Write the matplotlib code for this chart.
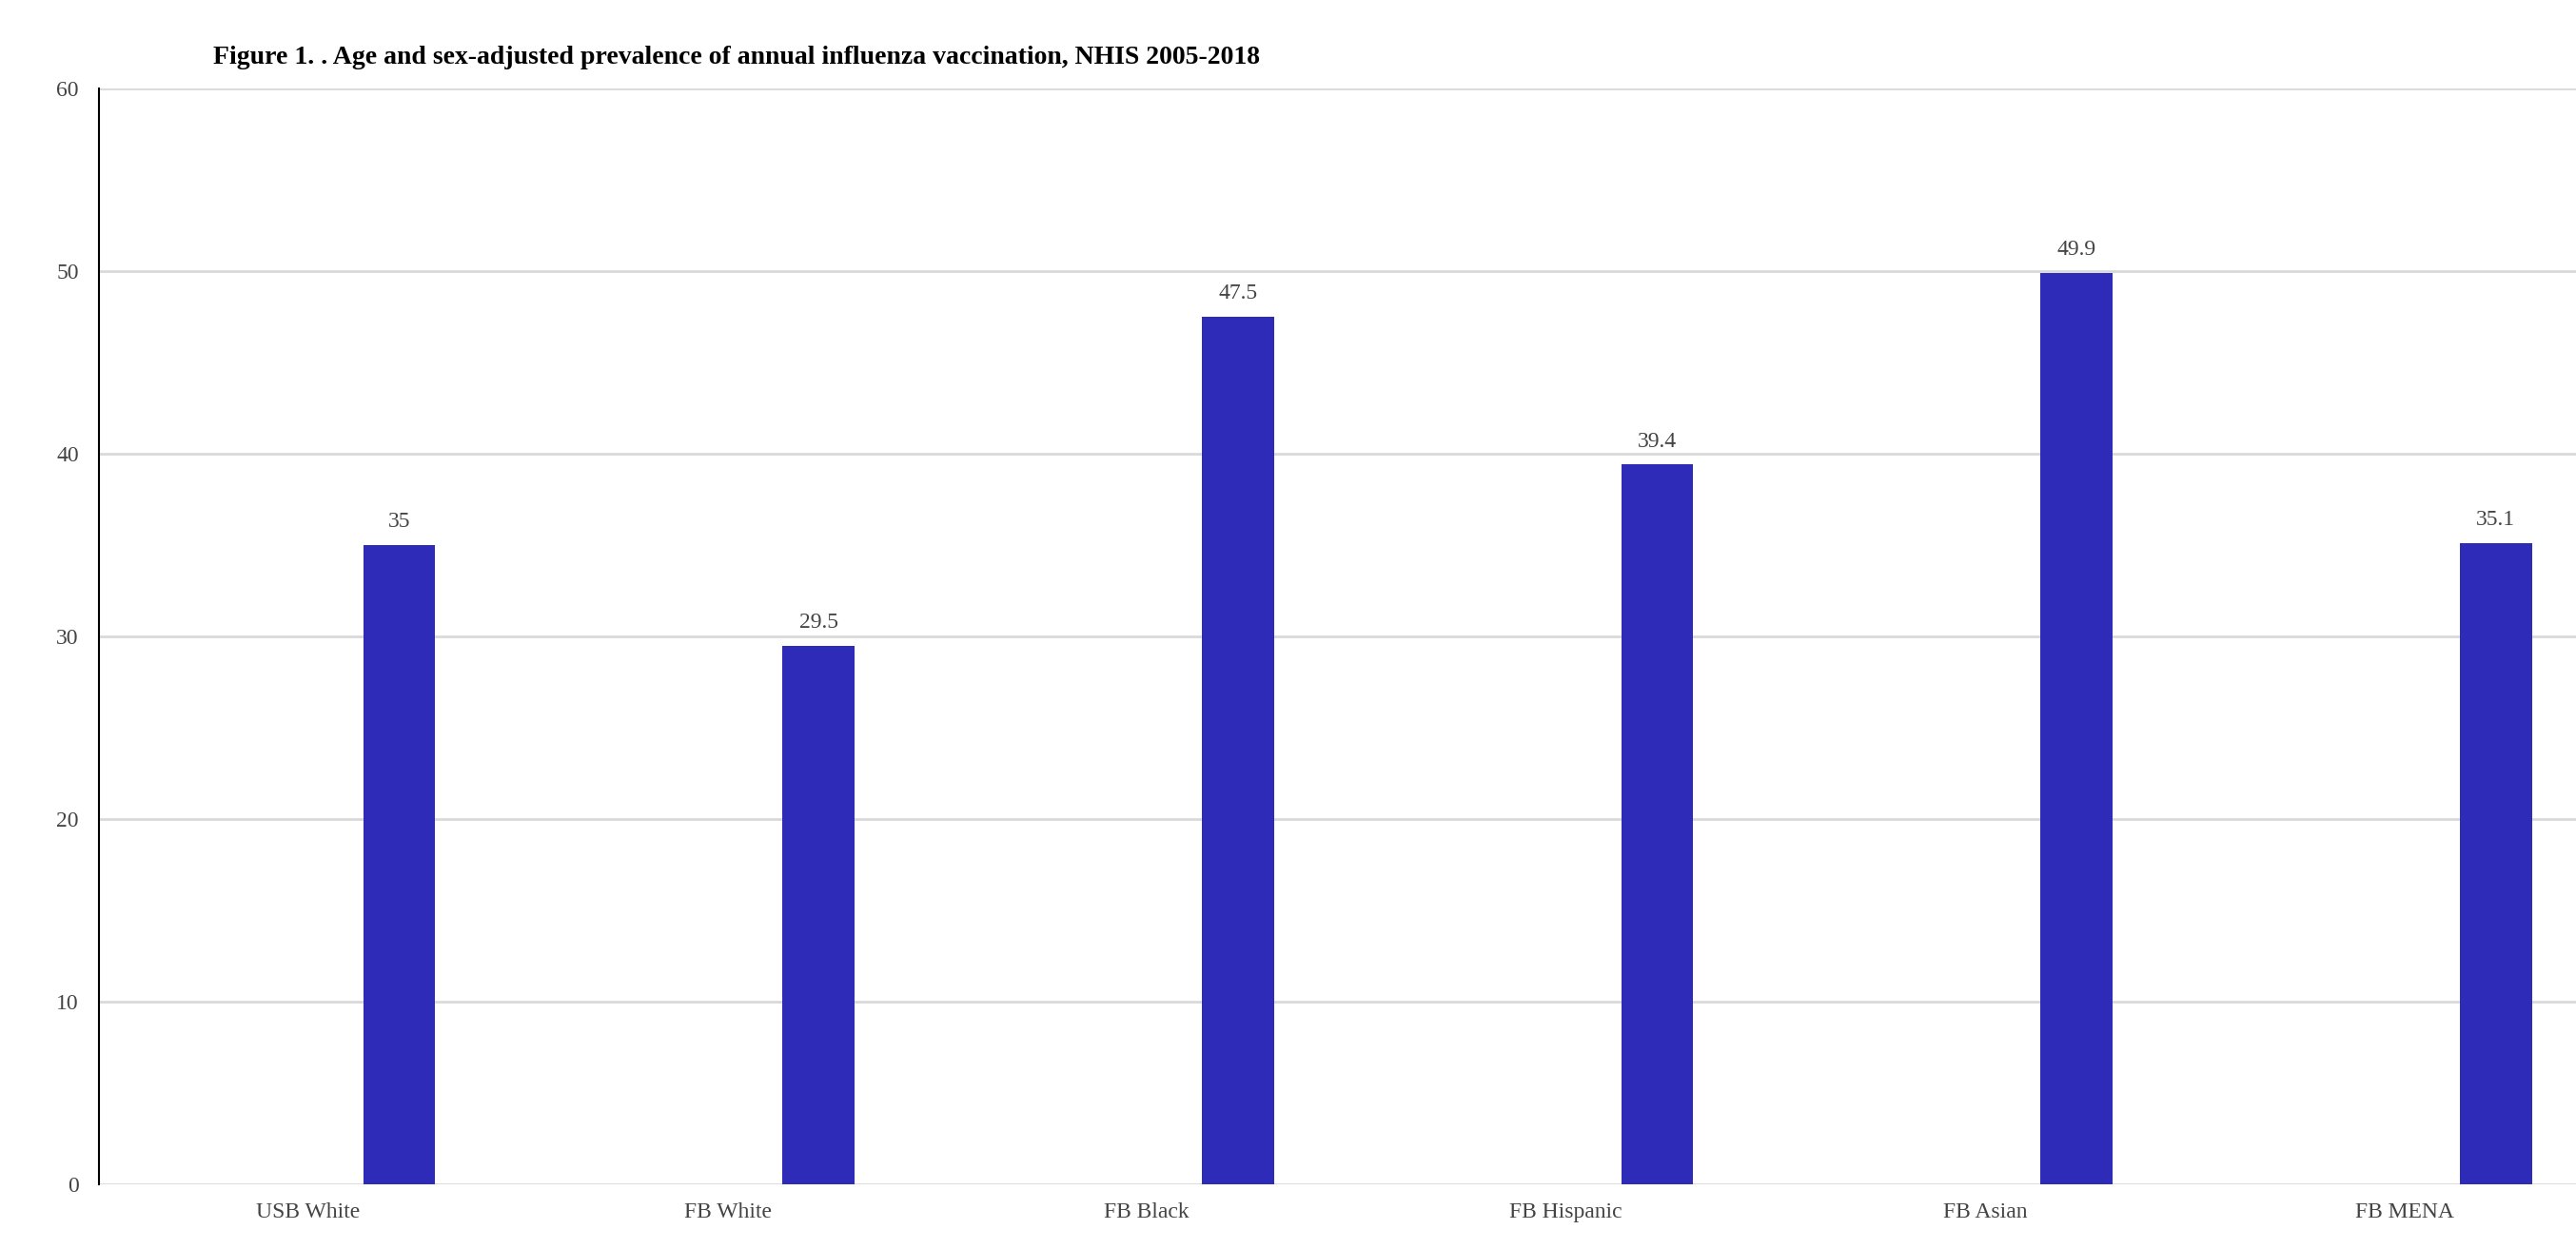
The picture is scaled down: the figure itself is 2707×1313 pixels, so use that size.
import matplotlib.pyplot as plt
import numpy as np

categories = ['USB White', 'FB White', 'FB Black', 'FB Hispanic', 'FB Asian', 'FB MENA']
prevalence = [35, 29.5, 47.5, 39.4, 49.9, 35.1]
labels = ['35', '29.5', '47.5', '39.4', '49.9', '35.1']
yticks = [0, 10, 20, 30, 40, 50, 60]

plt.rcParams['font.family'] = ['Liberation Serif', 'DejaVu Serif']

fig = plt.figure(figsize=(27.07, 13.13), dpi=100)
ax = fig.add_axes([0.0383, 0.0518, 0.9766, 0.8774])

x = np.arange(len(categories))
bars = ax.bar(x + 0.217, prevalence, width=0.172, color='#2e2bb8', zorder=3)
for b, t in zip(bars, labels):
    ax.annotate(t, (b.get_x() + b.get_width() / 2, b.get_height()),
                xytext=(0, 10), textcoords='offset points',
                ha='center', va='bottom', fontsize=17, color='#444444')

ax.set_xlim(-0.5, len(categories) - 0.5)
ax.set_ylim(0, 60)
ax.set_yticks(yticks)
ax.set_xticks(x)
ax.set_xticklabels(categories)
ax.tick_params(axis='both', length=0, labelsize=17, labelcolor='#444444')
ax.tick_params(axis='y', pad=15)
ax.tick_params(axis='x', pad=14)
ax.grid(axis='y', color='#d9d9d9', linewidth=2, zorder=0)
for s in ['top', 'right', 'bottom']:
    ax.spines[s].set_visible(False)
ax.spines['left'].set_color('black')
ax.spines['left'].set_linewidth(1.5)

fig.text(0.0828, 0.954, 'Figure 1. . Age and sex-adjusted prevalence of annual influenza vaccination, NHIS 2005-2018',
         fontsize=20, fontweight='bold', va='center', ha='left', color='black')

fig.savefig('out.png', dpi=100)
